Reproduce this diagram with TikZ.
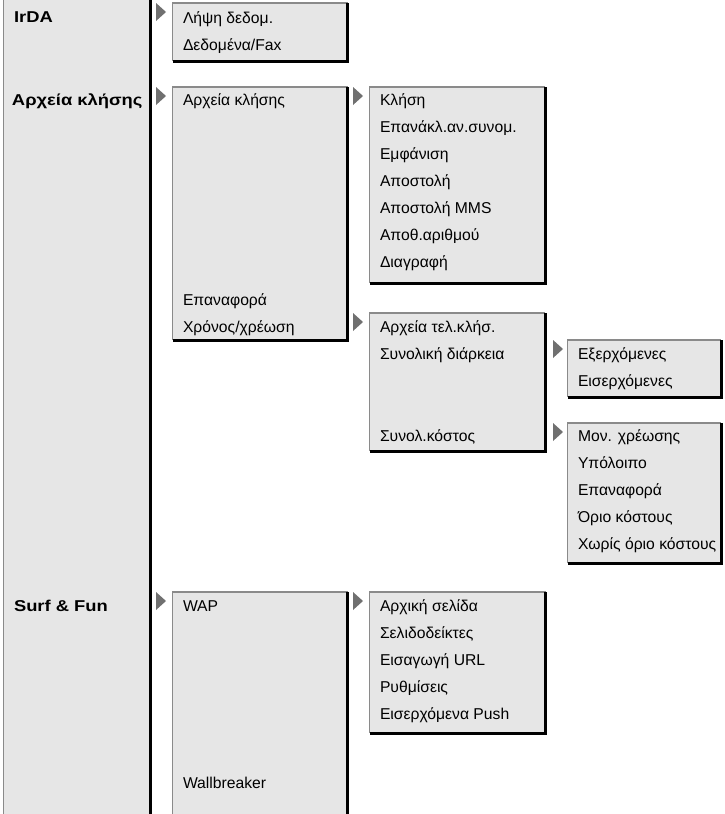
\documentclass[tikz,border=0pt]{standalone}
\usepackage{fontspec}
\setmainfont{Liberation Sans}
\definecolor{boxfill}{HTML}{E6E6E6}
\definecolor{edgegray}{HTML}{8A8A8A}
\definecolor{tipgray}{HTML}{707070}
\newcommand\panelrim[1]{%
  \draw[lightedge] (#1.south west) -- (#1.north west) -- (#1.north east);
  \draw[darkedge] (#1.north east) -- (#1.south east) -- (#1.south west);}
\newcommand\menutip[2]{\fill[tipfill] (#1,#2-9) -- (#1+10,#2) -- (#1,#2+9) -- cycle;}
\newcommand\wide[1]{\scalebox{1.17}[1]{#1}}
\begin{document}
\begin{tikzpicture}[x=1pt,y=-1pt,
  panel/.style={fill=boxfill, draw=none, inner sep=0, outer sep=0, anchor=north west},
  lightedge/.style={draw=edgegray, line width=1.5pt},
  darkedge/.style={draw=black, line width=3pt},
  item/.style={anchor=base west, inner sep=0, outer sep=0, font=\fontsize{15.7}{18}\selectfont},
  head/.style={item, font=\fontsize{15.7}{18}\selectfont\bfseries},
  tipfill/.style={fill=tipgray}]
\clip (0,0) rectangle (725,814);
% left column
\node[panel, minimum width=146.5, minimum height=840] (col) at (3.5,-10) {};
\draw[lightedge] (col.north west) -- (col.south west);
\draw[darkedge] (col.north east) -- (col.south east);
\node[head] (h1) at (14,22) {\wide{IrDA}};
\node[head] (h2) at (12,105) {\wide{Αρχεία κλήσης}};
\node[head] (h3) at (14,611) {\wide{Surf \& Fun}};
% panels
\node[panel, minimum width=175, minimum height=58] (p1) at (172.5,3) {};
\node[panel, minimum width=175, minimum height=253] (p2) at (172.5,87) {};
\node[panel, minimum width=175.5, minimum height=196] (p3) at (369.5,87) {};
\node[panel, minimum width=175.5, minimum height=138] (p4) at (369.5,313) {};
\node[panel, minimum width=153.5, minimum height=57] (p5) at (567.5,340) {};
\node[panel, minimum width=153.5, minimum height=140] (p6) at (567.5,423) {};
\node[panel, minimum width=175, minimum height=240] (p7) at (172.5,592) {};
\node[panel, minimum width=176, minimum height=141] (p8) at (369.5,592) {};
\panelrim{p1}\panelrim{p2}\panelrim{p3}\panelrim{p4}
\panelrim{p5}\panelrim{p6}\panelrim{p7}\panelrim{p8}
% tips
\menutip{156}{12}\menutip{156}{96}\menutip{156}{601}
\menutip{353}{96}\menutip{353}{322}\menutip{353}{601}
\menutip{553}{349}\menutip{553}{432}
% p1
\node[item] (a1) at (183,23) {Λήψη δεδομ.};
\node[item] (a2) at (183,50) {Δεδομένα/Fax};
% p2
\node[item] (b1) at (183,105) {Αρχεία κλήσης};
\node[item] (b2) at (183,305) {Επαναφορά};
\node[item] (b3) at (183,332) {Χρόνος/χρέωση};
% p3
\node[item] (c1) at (380,105) {Κλήση};
\node[item] (c2) at (380,132) {Επανάκλ.αν.συνομ.};
\node[item] (c3) at (380,159) {Εμφάνιση};
\node[item] (c4) at (380,186) {Αποστολή};
\node[item] (c5) at (380,213) {Αποστολή MMS};
\node[item] (c6) at (380,240) {Αποθ.αριθμού};
\node[item] (c7) at (380,267) {Διαγραφή};
% p4
\node[item] (d1) at (380,332) {Αρχεία τελ.κλήσ.};
\node[item] (d2) at (380,359) {Συνολική διάρκεια};
\node[item] (d3) at (380,441) {Συνολ.κόστος};
% p5
\node[item] (e1) at (578,359) {Εξερχόμενες};
\node[item] (e2) at (578,386) {Εισερχόμενες};
% p6
\node[item] (f1) at (578,441) {Μον. χρέωσης};
\node[item] (f2) at (578,468) {Υπόλοιπο};
\node[item] (f3) at (578,495) {Επαναφορά};
\node[item] (f4) at (578,522) {Όριο κόστους};
\node[item] (f5) at (578,549) {Χωρίς όριο κόστους};
% p7
\node[item] (g1) at (183,611) {WAP};
\node[item] (g2) at (183,788) {Wallbreaker};
% p8
\node[item] (k1) at (380,611) {Αρχική σελίδα};
\node[item] (k2) at (380,638) {Σελιδοδείκτες};
\node[item] (k3) at (380,665) {Εισαγωγή URL};
\node[item] (k4) at (380,692) {Ρυθμίσεις};
\node[item] (k5) at (380,719) {Εισερχόμενα Push};
\end{tikzpicture}
\end{document}
